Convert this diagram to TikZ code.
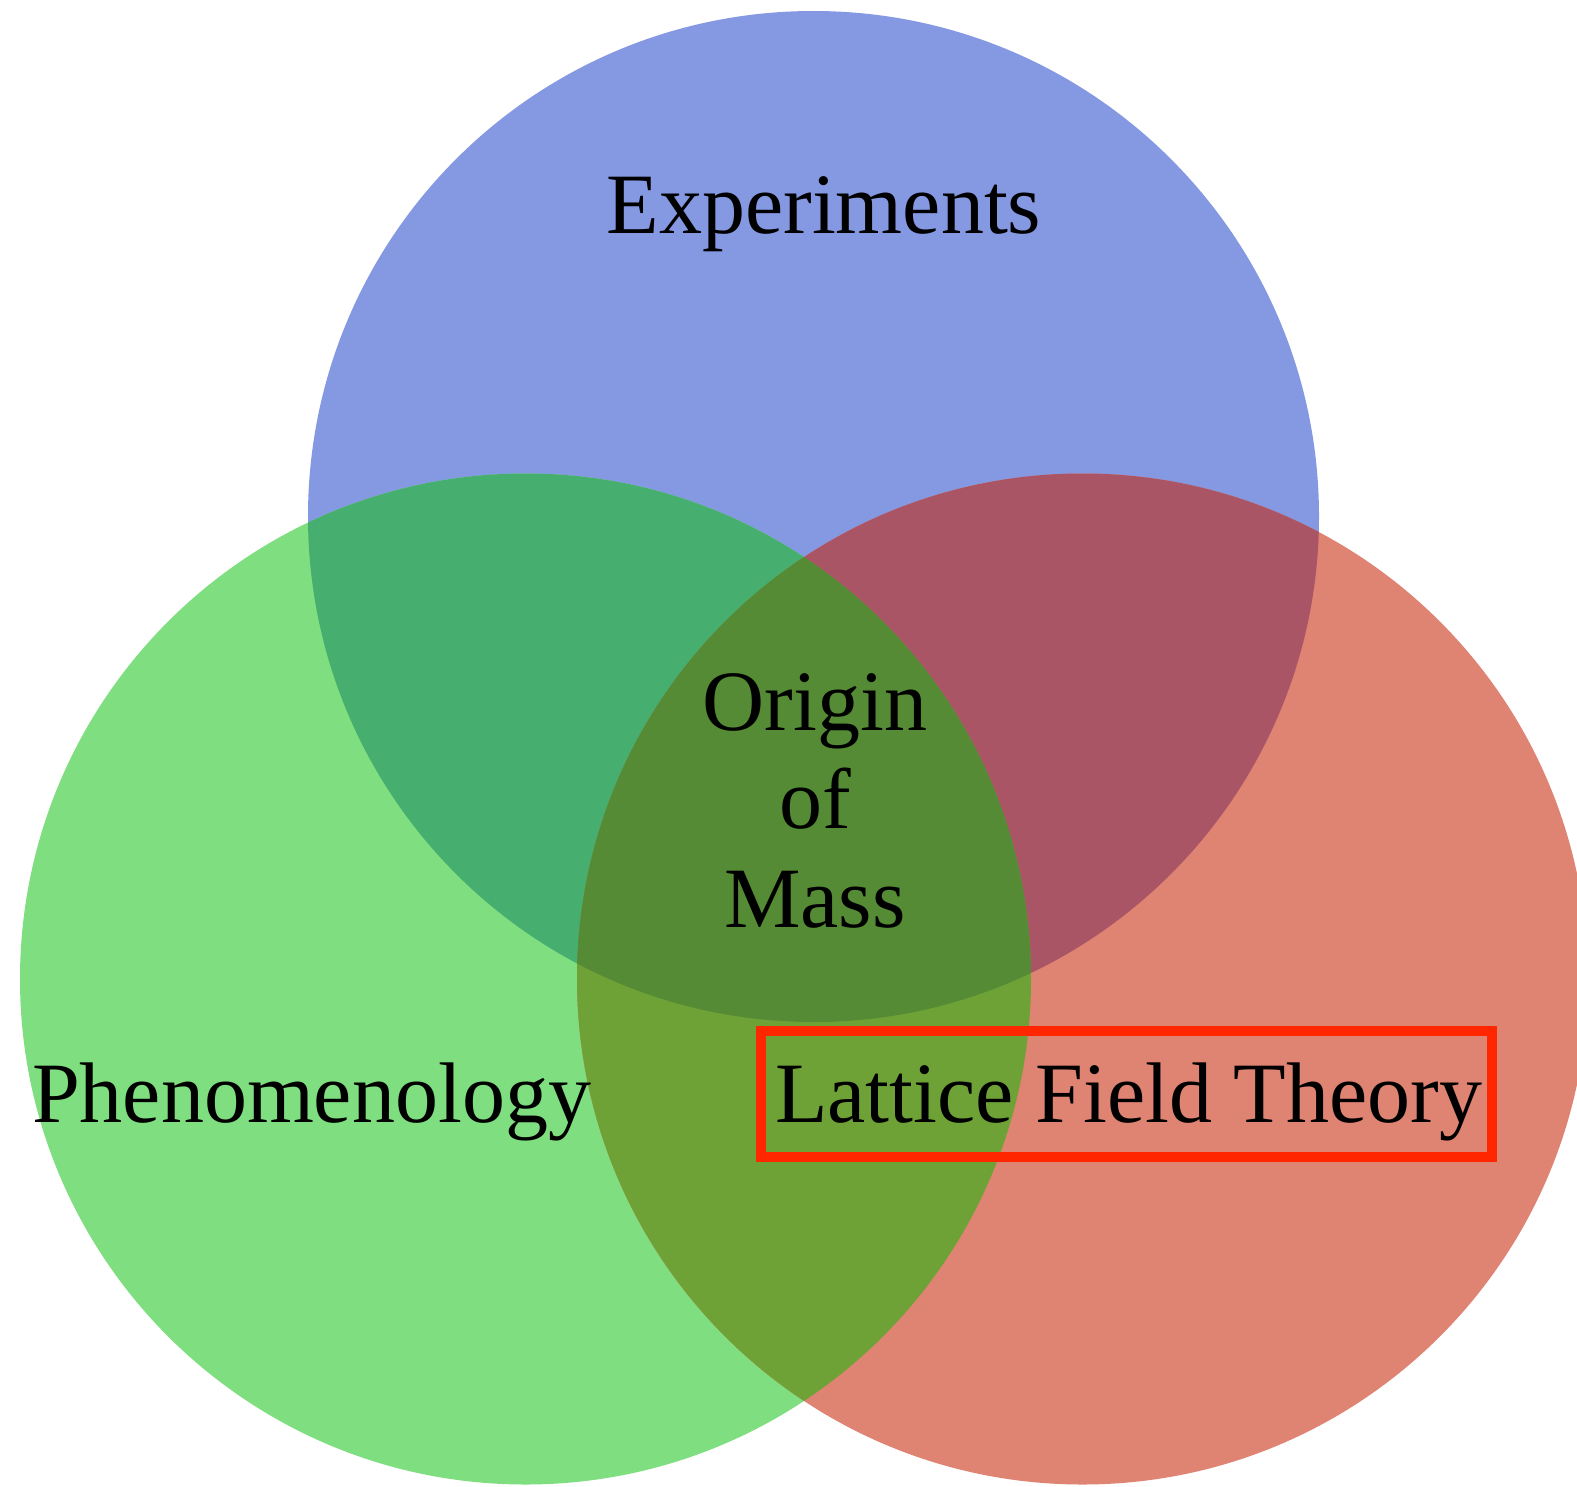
\documentclass[tikz,border=0pt]{standalone}
\usepackage{fontspec}
\setmainfont{Liberation Serif}
\definecolor{cB}{RGB}{133,152,226}
\definecolor{cG}{RGB}{127,222,127}
\definecolor{cR}{RGB}{223,131,115}
\definecolor{cBG}{RGB}{70,175,112}
\definecolor{cBR}{RGB}{170,85,102}
\definecolor{cGR}{RGB}{110,162,55}
\definecolor{cBGR}{RGB}{84,139,52}
\definecolor{boxred}{RGB}{255,38,0}
\tikzset{
  lbl/.style={anchor=base, inner sep=0pt, text=black, font=\fontsize{86}{98.5}\selectfont},
  hlbox/.style={draw=boxred, line width=10pt}
}
\begin{document}
\begin{tikzpicture}[x=1pt,y=-1pt]
\useasboundingbox (0,0) rectangle (1577,1486);
\clip (0,0) rectangle (1577,1486);
\coordinate (cb) at (813.5,516.5);
\coordinate (cg) at (525.5,979);
\coordinate (cr) at (1082.5,979);
\def\R{505.5pt}
\fill[cB] (cb) circle (\R);
\fill[cG] (cg) circle (\R);
\fill[cR] (cr) circle (\R);
\begin{scope}
  \clip (cb) circle (\R);
  \fill[cBG] (cg) circle (\R);
  \fill[cBR] (cr) circle (\R);
\end{scope}
\begin{scope}
  \clip (cg) circle (\R);
  \fill[cGR] (cr) circle (\R);
  \clip (cr) circle (\R);
  \fill[cBGR] (cb) circle (\R);
\end{scope}
\node[lbl] (exp) at (824,233) {Experiments};
\node[lbl, align=center, anchor=base] (origin) at (815,927) {Origin\\of\\Mass};
\node[lbl] (phen) at (311.5,1122) {Phenomenology};
\node[lbl] (lft) at (1128.5,1122) {Lattice Field Theory};
\draw[hlbox] (761,1031) rectangle (1492,1157);
\end{tikzpicture}
\end{document}
